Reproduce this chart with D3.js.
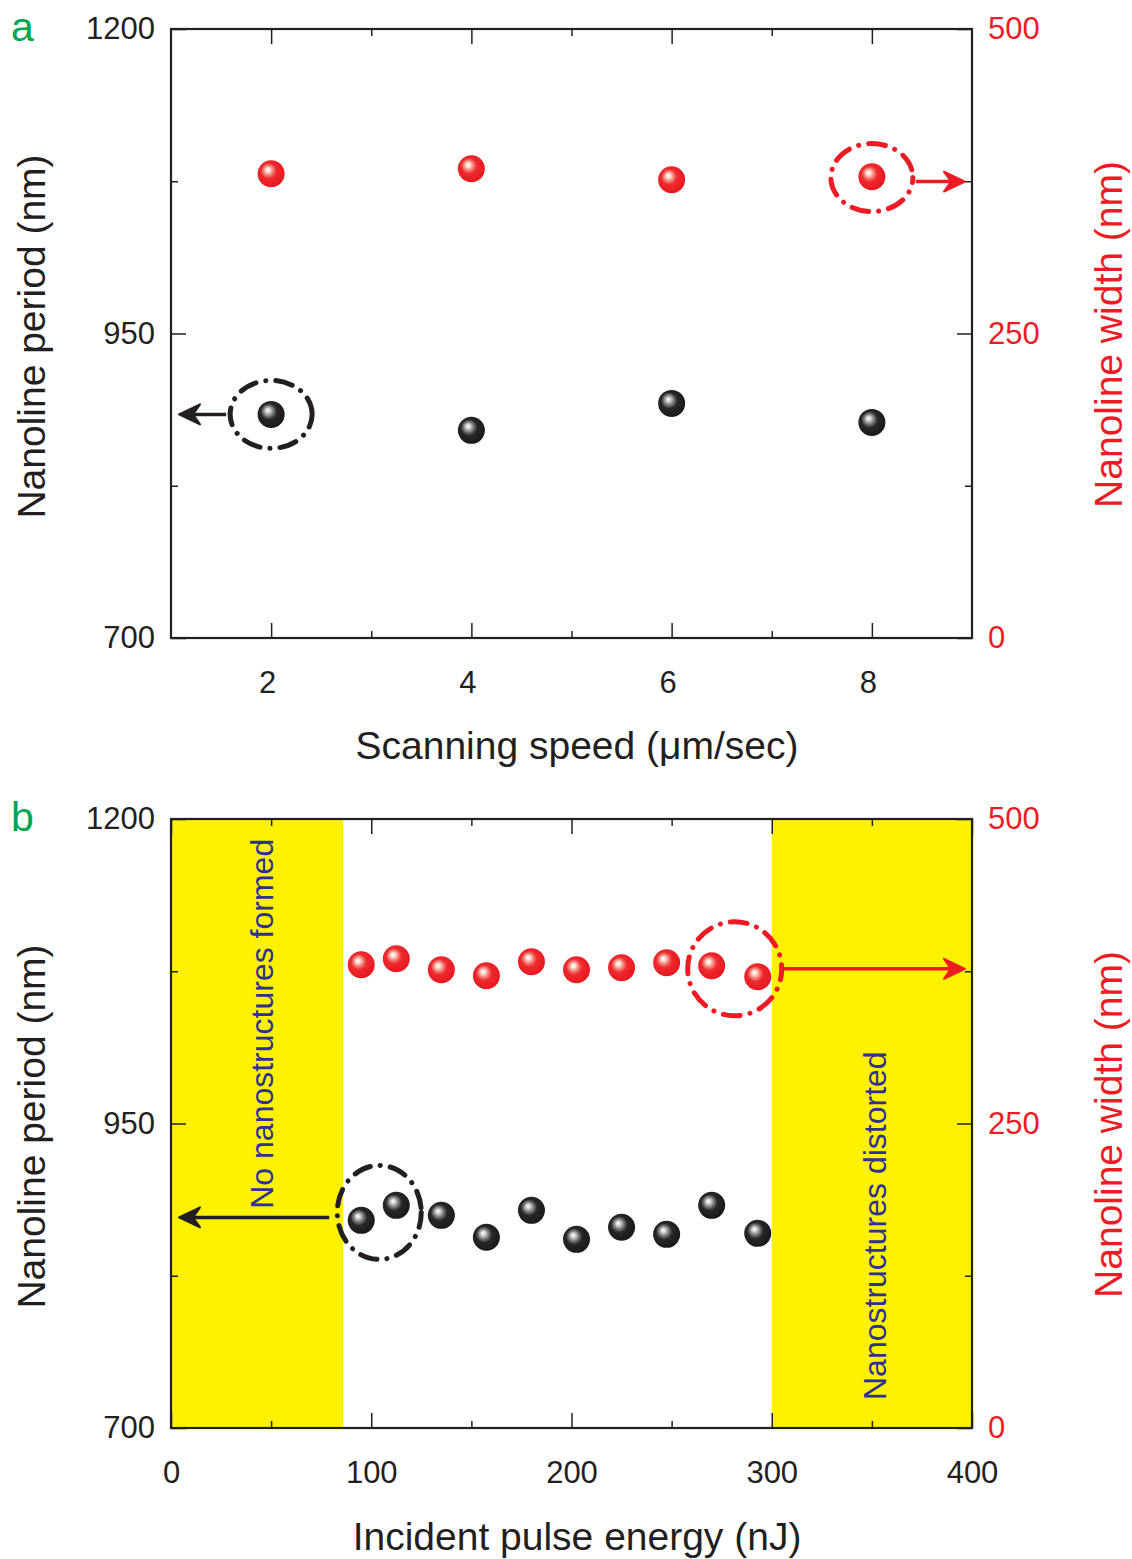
<!DOCTYPE html>
<html>
<head>
<meta charset="utf-8">
<script src="https://cdn.jsdelivr.net/npm/d3@7"></script>
<style>
  body { margin: 0; background: #fff; }
  svg { display: block; font-family: "Liberation Sans", Arial, sans-serif; }
  .tick line { stroke: #231f20; stroke-width: 1.5; }
  .domain { display: none; }
</style>
</head>
<body>
<div id="chart"></div>
<script>
// ---- data ----
// panel a: scanning speed (um/sec)
const speedX = [2, 4, 6, 8];
const speedPeriod = [883.6, 870.5, 892.6, 877.0];   // nm, left axis
const speedWidth = [381.1, 385.2, 376.2, 378.7];    // nm, right axis
const speedTicks = [2, 4, 6, 8];
const speedMinor = [3, 5, 7];

// panel b: incident pulse energy (nJ)
const energyX = [95, 112.5, 135, 157.5, 180, 202.5, 225, 247.5, 270, 293];
const energyPeriod = [870.5, 882.8, 874.6, 856.6, 878.7, 854.9, 864.8, 859.0, 882.8, 859.8];
const energyWidth = [380.3, 385.2, 376.2, 371.3, 382.8, 376.2, 377.9, 382.0, 379.5, 370.5];
const energyTicks = [0, 100, 200, 300, 400];
const energyMinor = [50, 150, 250, 350];
const energyBands = [[0, 86], [300, 400]];
const bandLabels = ['No nanostructures formed', 'Nanostructures distorted'];

const periodTicks = [700, 950, 1200];
const periodMinor = [825, 1075];
const widthTicks = [0, 250, 500];
const widthMinor = [125, 375];

const W = 1132, H = 1559;
const plotLeft = 171, plotW = 801, plotH = 609;
const RED = '#ed1c24', INK = '#231f20', GREEN = '#00a651', NAVY = '#2e3192';
const fmt = d3.format('d');

const svg = d3.select('#chart').append('svg')
    .attr('width', W)
    .attr('height', H);

// sphere-like marker gradients
const defs = svg.append('defs');
function ball(id, stops) {
  const g = defs.append('radialGradient')
      .attr('id', id)
      .attr('cx', 0.45).attr('cy', 0.45).attr('r', 0.58)
      .attr('fx', 0.37).attr('fy', 0.34);
  stops.forEach(s => g.append('stop').attr('offset', s[0]).attr('stop-color', s[1]));
}
ball('ballRed', [[0, '#ffffff'], [0.12, '#fde6de'], [0.3, '#f3887c'], [0.5, '#ee2a2f'], [1, '#e8161e']]);
ball('ballBlack', [[0, '#ffffff'], [0.12, '#dcdcdc'], [0.32, '#7d7d7d'], [0.52, '#2a2627'], [1, '#1a1718']]);

function arrowHead(g, tipX, tipY, dir, color) {
  // swept-back head, dir = -1 points left, +1 right
  const L = 21, Wd = 10;
  g.append('path')
      .attr('d', `M${tipX},${tipY} L${tipX - dir * L},${tipY - Wd} L${tipX - dir * (L - 7)},${tipY} L${tipX - dir * L},${tipY + Wd} Z`)
      .attr('fill', color)
      .attr('stroke', color)
      .attr('stroke-width', 2)
      .attr('stroke-linejoin', 'round');
}

function styleLabels(axisG, color) {
  axisG.attr('font-family', null).attr('font-size', null);
  axisG.selectAll('text').attr('font-size', 31).attr('fill', color);
}

function drawPanel(cfg) {
  const top = cfg.top;
  const x = d3.scaleLinear().domain(cfg.xDomain).range([plotLeft, plotLeft + plotW]);
  const yL = d3.scaleLinear().domain([700, 1200]).range([top + plotH, top]);
  const yR = d3.scaleLinear().domain([0, 500]).range([top + plotH, top]);

  const g = svg.append('g');

  // shaded bands
  (cfg.bands || []).forEach(b => {
    g.append('rect')
        .attr('x', x(b[0]))
        .attr('y', top)
        .attr('width', x(b[1]) - x(b[0]))
        .attr('height', plotH)
        .attr('fill', '#fff200');
  });

  // band labels
  (cfg.bandText || []).forEach(t => {
    g.append('text')
        .attr('transform', `translate(${x(t.x)},${yL(t.y)}) rotate(-90)`)
        .attr('text-anchor', 'start')
        .attr('font-size', 32)
        .attr('fill', NAVY)
        .text(t.text);
  });

  // axes: ticks point inward
  const bottom = g.append('g').attr('transform', `translate(0,${top + plotH})`)
      .call(d3.axisBottom(x).tickValues(cfg.xTicks).tickSize(-15).tickSizeOuter(0).tickPadding(33).tickFormat(fmt));
  styleLabels(bottom, INK);
  bottom.selectAll('text').attr('dx', cfg.xLabelDx || 0);
  g.append('g').attr('transform', `translate(0,${top + plotH})`)
      .call(d3.axisBottom(x).tickValues(cfg.xMinor).tickSize(-7).tickSizeOuter(0).tickFormat(''));
  g.append('g').attr('transform', `translate(0,${top})`)
      .call(d3.axisTop(x).tickValues(cfg.xTicks).tickSize(-15).tickSizeOuter(0).tickFormat(''));
  g.append('g').attr('transform', `translate(0,${top})`)
      .call(d3.axisTop(x).tickValues(cfg.xMinor).tickSize(-7).tickSizeOuter(0).tickFormat(''));

  const left = g.append('g').attr('transform', `translate(${plotLeft},0)`)
      .call(d3.axisLeft(yL).tickValues(periodTicks).tickSize(-15).tickSizeOuter(0).tickPadding(16).tickFormat(fmt));
  styleLabels(left, INK);
  g.append('g').attr('transform', `translate(${plotLeft},0)`)
      .call(d3.axisLeft(yL).tickValues(periodMinor).tickSize(-7).tickSizeOuter(0).tickFormat(''));

  const right = g.append('g').attr('transform', `translate(${plotLeft + plotW},0)`)
      .call(d3.axisRight(yR).tickValues(widthTicks).tickSize(-15).tickSizeOuter(0).tickPadding(16).tickFormat(fmt));
  styleLabels(right, RED);
  g.append('g').attr('transform', `translate(${plotLeft + plotW},0)`)
      .call(d3.axisRight(yR).tickValues(widthMinor).tickSize(-7).tickSizeOuter(0).tickFormat(''));

  // frame
  g.append('rect')
      .attr('x', plotLeft).attr('y', top)
      .attr('width', plotW).attr('height', plotH)
      .attr('fill', 'none')
      .attr('stroke', INK)
      .attr('stroke-width', 2.2);

  // dash-dot rings and arrows
  cfg.rings.forEach(r => {
    const ys = r.axis === 'L' ? yL : yR;
    const cx = x(r.x), cy = ys(r.y);
    const color = r.axis === 'L' ? INK : RED;
    g.append('ellipse')
        .attr('cx', cx).attr('cy', cy)
        .attr('rx', r.rx).attr('ry', r.ry)
        .attr('fill', 'none')
        .attr('stroke', color)
        .attr('stroke-width', 5)
        .attr('stroke-linecap', 'round')
        .attr('stroke-dasharray', '17,10,0.1,10')
        .attr('stroke-dashoffset', r.offset || 0);
    const tipX = r.axis === 'L' ? plotLeft + 8 : plotLeft + plotW - 7;
    const dir = r.axis === 'L' ? -1 : 1;
    const startX = cx + dir * (r.rx + (r.gap || 0));
    const ay = cy + (r.dy || 0);
    g.append('line')
        .attr('x1', startX).attr('y1', ay)
        .attr('x2', tipX - dir * 10).attr('y2', ay)
        .attr('stroke', color)
        .attr('stroke-width', 3.5);
    arrowHead(g, tipX, ay, dir, color);
  });

  // markers
  const pts = cfg.xs.map((v, i) => ({x: v, p: cfg.period[i], w: cfg.width[i]}));
  g.selectAll('.width-pt').data(pts).join('circle')
      .attr('class', 'width-pt')
      .attr('cx', d => x(d.x))
      .attr('cy', d => yR(d.w))
      .attr('r', 13.5)
      .attr('fill', 'url(#ballRed)');
  g.selectAll('.period-pt').data(pts).join('circle')
      .attr('class', 'period-pt')
      .attr('cx', d => x(d.x))
      .attr('cy', d => yL(d.p))
      .attr('r', 13.5)
      .attr('fill', 'url(#ballBlack)');

  // titles
  g.append('text')
      .attr('x', 11).attr('y', top + 12)
      .attr('font-size', 41)
      .attr('fill', GREEN)
      .text(cfg.label);
  g.append('text')
      .attr('transform', `translate(45,${top + plotH / 2 + 3}) rotate(-90)`)
      .attr('text-anchor', 'middle')
      .attr('font-size', 39)
      .attr('fill', INK)
      .text('Nanoline period (nm)');
  g.append('text')
      .attr('transform', `translate(1122,${top + plotH / 2 + 1}) rotate(-90)`)
      .attr('text-anchor', 'middle')
      .attr('font-size', 39)
      .attr('fill', RED)
      .text('Nanoline width (nm)');
  g.append('text')
      .attr('x', 577)
      .attr('y', top + plotH + cfg.titleGap)
      .attr('text-anchor', 'middle')
      .attr('font-size', 39)
      .attr('fill', INK)
      .text(cfg.xTitle);
}

drawPanel({
  label: 'a', top: 29,
  xDomain: [1, 9], xTicks: speedTicks, xMinor: speedMinor, xLabelDx: -4,
  xs: speedX, period: speedPeriod, width: speedWidth,
  xTitle: 'Scanning speed (\u03bcm/sec)', titleGap: 121,
  rings: [
    {axis: 'L', x: 2, y: 883.6, rx: 41, ry: 34, gap: 4, offset: 4},
    {axis: 'R', x: 8, y: 378, rx: 41, ry: 34, gap: 3, dy: 4, offset: 12}
  ]
});

drawPanel({
  label: 'b', top: 819,
  xDomain: [0, 400], xTicks: energyTicks, xMinor: energyMinor,
  xs: energyX, period: energyPeriod, width: energyWidth,
  bands: energyBands,
  bandText: [
    {x: 51, y: 880, text: bandLabels[0]},
    {x: 357, y: 723, text: bandLabels[1]}
  ],
  xTitle: 'Incident pulse energy (nJ)', titleGap: 122,
  rings: [
    {axis: 'L', x: 104, y: 877, rx: 42, ry: 47, gap: 8, dy: 5, offset: 2},
    {axis: 'R', x: 281.5, y: 377, rx: 47, ry: 47, gap: 2, offset: 6}
  ]
});
</script>
</body>
</html>
